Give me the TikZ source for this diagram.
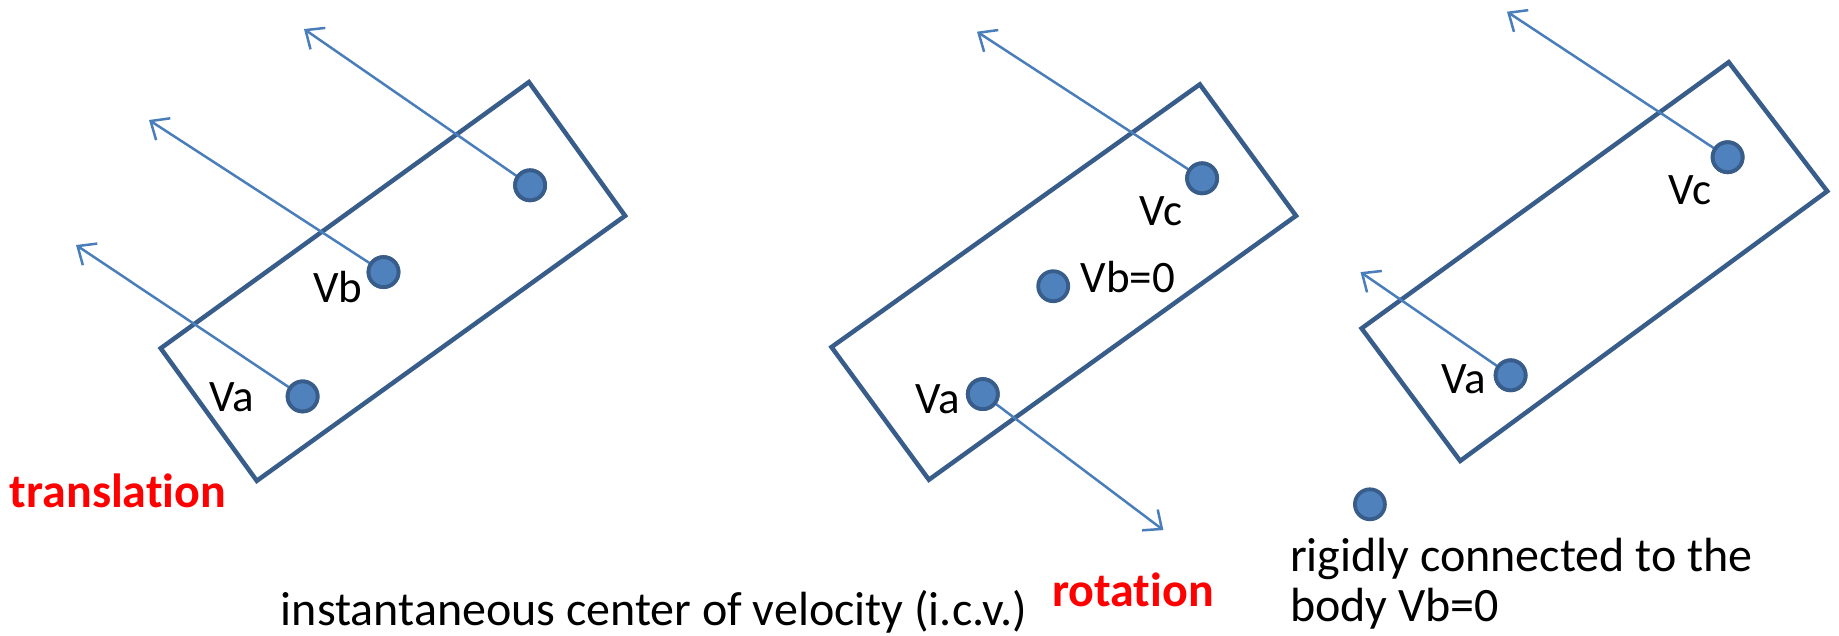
\documentclass[tikz,border=0pt]{standalone}
\usepackage{fontspec}
\setmainfont[Ligatures=CommonOff]{Carlito}
\usetikzlibrary{arrows.meta}
\definecolor{bodyblue}{HTML}{385D8A}
\definecolor{dotfill}{HTML}{4F81BD}
\definecolor{arrowblue}{HTML}{4A7EBB}
\definecolor{redlbl}{HTML}{FF0000}
\tikzset{
  body/.style={draw=bodyblue, line width=4.5pt, line join=miter},
  pnt/.style={circle, fill=dotfill, draw=bodyblue, line width=3.8pt, minimum size=30pt, inner sep=0pt},
  vel/.style={draw=arrowblue, line width=2.5pt, -{Straight Barb[length=15pt,width=26pt,line width=2.5pt]}},
  lbl/.style={font=\fontsize{45}{54}\selectfont, inner sep=0pt, text=black},
  big/.style={font=\fontsize{48}{58}\selectfont, inner sep=0pt, text=black},
  redtxt/.style={font=\fontsize{48}{58}\selectfont\bfseries, inner sep=0pt, text=redlbl},
}
\begin{document}
\begin{tikzpicture}[x=1pt,y=-1pt]
\useasboundingbox (0,0) rectangle (1839,635);
% ---------- panel 1: translation ----------
\draw[body] (160.7,348.3) -- (528.9,82.1) -- (625.1,215.8) -- (256.8,480.8) -- cycle;
\coordinate (t1a) at (76,245);
\coordinate (t1b) at (149,120);
\coordinate (t1c) at (304,29);
\node[pnt] (a1) at (302.6,396.4) {};
\node[pnt] (b1) at (383.5,272.1) {};
\node[pnt] (c1) at (530.1,185.3) {};
\draw[vel] (a1.center) -- (t1a);
\draw[vel] (b1.center) -- (t1b);
\draw[vel] (c1.center) -- (t1c);
\node[pnt] at (a1) {};
\node[pnt] at (b1) {};
\node[pnt] at (c1) {};
\node[lbl] (la1) at (232,397) {Va};
\node[lbl] (lb1) at (338,287) {Vb};
\node[redtxt] (tr) at (118,491) {translation};
% ---------- panel 2: rotation ----------
\draw[body] (831.5,347.1) -- (1199.8,84.4) -- (1296,215.8) -- (928.9,479.7) -- cycle;
\coordinate (t2a) at (1163.4,530.1);
\coordinate (t2c) at (977,31.7);
\node[pnt] (a2) at (982.8,394.1) {};
\node[pnt] (b2) at (1053.2,286.2) {};
\node[pnt] (c2) at (1202.1,178.3) {};
\draw[vel] (a2.center) -- (t2a);
\draw[vel] (c2.center) -- (t2c);
\node[pnt] at (a2) {};
\node[pnt] at (c2) {};
\node[lbl] (la2) at (938,399) {Va};
\node[lbl] (lb2) at (1128,277) {Vb=0};
\node[lbl] (lc2) at (1161,211) {Vc};
\node[redtxt] (rot) at (1133,590) {rotation};
\node[big] (icv) at (654,612) {instantaneous center of velocity (i.c.v.)};
% ---------- panel 3: rigidly connected ----------
\draw[body] (1361.6,328.4) -- (1728.7,62.2) -- (1827.2,191.2) -- (1460.2,460.9) -- cycle;
\coordinate (t3a) at (1360.5,272.1);
\coordinate (t3c) at (1507,11.7);
\node[pnt] (a3) at (1510.6,375.3) {};
\node[pnt] (c3) at (1727.6,157.2) {};
\node[pnt] (b3) at (1369.9,504.3) {};
\draw[vel] (a3.center) -- (t3a);
\draw[vel] (c3.center) -- (t3c);
\node[pnt] at (a3) {};
\node[pnt] at (c3) {};
\node[big, anchor=west] (rig1) at (1290,559) {rigidly connected to the};
\node[big, anchor=west] (rig2) at (1290,609) {body Vb=0};
\node[lbl] (la3) at (1464,379) {Va};
\node[lbl] (lc3) at (1690,190) {Vc};
\end{tikzpicture}
\end{document}
